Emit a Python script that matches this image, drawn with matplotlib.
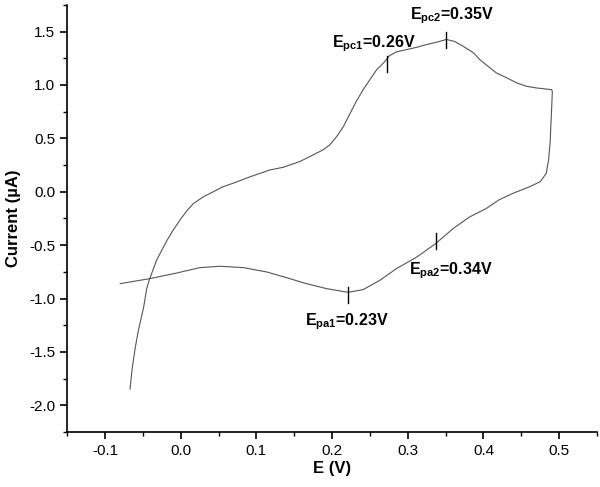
import matplotlib
matplotlib.use("Agg")
import matplotlib.pyplot as plt
from matplotlib.ticker import MultipleLocator

plt.rcParams["font.family"] = ["Liberation Sans", "DejaVu Sans"]
plt.rcParams["mathtext.fontset"] = "custom"
plt.rcParams["mathtext.rm"] = "Liberation Sans"
plt.rcParams["mathtext.bf"] = "Liberation Sans:bold"

# cyclic voltammogram, traced point by point (E in V, current in uA)
potential = [-0.080, -0.041, -0.005, 0.025, 0.052, 0.083, 0.114, 0.140, 0.166,
             0.193, 0.221, 0.241, 0.263, 0.285, 0.312, 0.337, 0.360, 0.382,
             0.404, 0.420, 0.439, 0.461, 0.475, 0.483, 0.486, 0.488, 0.489,
             0.490, 0.491, 0.490, 0.470, 0.457, 0.444, 0.431, 0.417, 0.406,
             0.395, 0.387, 0.373, 0.362, 0.351, 0.338, 0.325, 0.312, 0.299,
             0.285, 0.276, 0.268, 0.259, 0.250, 0.241, 0.232, 0.224, 0.215,
             0.206, 0.197, 0.188, 0.175, 0.158, 0.136, 0.118, 0.092, 0.069,
             0.056, 0.043, 0.030, 0.017, 0.008, -0.001, -0.010, -0.018, -0.025,
             -0.032, -0.036, -0.041, -0.045, -0.049, -0.056, -0.060, -0.064,
             -0.067]
current = [-0.861, -0.814, -0.761, -0.711, -0.698, -0.711, -0.752, -0.805, -0.861,
           -0.908, -0.942, -0.917, -0.830, -0.720, -0.611, -0.485, -0.344, -0.235,
           -0.156, -0.078, -0.015, 0.047, 0.094, 0.173, 0.298, 0.455, 0.611,
           0.768, 0.940, 0.956, 0.972, 0.987, 1.019, 1.066, 1.113, 1.175,
           1.238, 1.300, 1.363, 1.407, 1.426, 1.400, 1.379, 1.353, 1.332,
           1.310, 1.275, 1.206, 1.144, 1.050, 0.956, 0.846, 0.737, 0.611,
           0.517, 0.439, 0.392, 0.345, 0.285, 0.230, 0.204, 0.141, 0.079,
           0.047, 0.000, -0.047, -0.109, -0.179, -0.266, -0.360, -0.454, -0.548,
           -0.642, -0.720, -0.814, -0.908, -1.081, -1.300, -1.457, -1.645,
           -1.848]

# peak markers and their labels
peak_x = [0.272, 0.351, 0.221, 0.337]
peak_y = [1.20, 1.42, -0.97, -0.46]
peak_labels = [r"E$_{\mathbf{pc1}}$=0.26V", r"E$_{\mathbf{pc2}}$=0.35V",
               r"E$_{\mathbf{pa1}}$=0.23V", r"E$_{\mathbf{pa2}}$=0.34V"]
label_offsets = [(-39, 11.5), (-26, 15), (-31, -21.5), (-19, -24)]

fig = plt.figure(figsize=(6, 4.87), dpi=100)
ax = fig.add_axes([0.112, 0.113, 0.883, 0.877])

ax.plot(potential, current, color="#555555", lw=0.8)

for x, y, lab, off in zip(peak_x, peak_y, peak_labels, label_offsets):
    ax.plot([x, x], [y - 0.075, y + 0.075], color="black", lw=1.0)
    ax.annotate(lab, (x, y), xytext=off, textcoords="offset points",
                ha="left", va="baseline", fontsize=11.5, fontweight="bold")

ax.set_xlim(-0.15, 0.55)
ax.set_ylim(-2.25, 1.75)
ax.xaxis.set_minor_locator(MultipleLocator(0.05))
ax.yaxis.set_minor_locator(MultipleLocator(0.25))
ax.set_xticks([-0.1, 0.0, 0.1, 0.2, 0.3, 0.4, 0.5])
ax.set_xticklabels(["-0.1", "0.0", "0.1", "0.2", "0.3", "0.4", "0.5"])
ax.set_yticks([-2.0, -1.5, -1.0, -0.5, 0.0, 0.5, 1.0, 1.5])
ax.set_yticklabels(["-2.0", "-1.5", "-1.0", "-0.5", "0.0", "0.5", "1.0", "1.5"])

for side in ["top", "right"]:
    ax.spines[side].set_visible(False)
for side in ["left", "bottom"]:
    ax.spines[side].set_linewidth(1.2)
ax.tick_params(which="major", direction="out", length=5, width=1.2,
               labelsize=11, colors="black")
ax.tick_params(which="minor", direction="out", length=3, width=1.0)

ax.set_xlabel("E (V)", fontsize=12, fontweight="bold", labelpad=2)
ax.set_ylabel("Current (\u00b5A)", fontsize=12, fontweight="bold", labelpad=6)

fig.savefig("out.png", dpi=100)
